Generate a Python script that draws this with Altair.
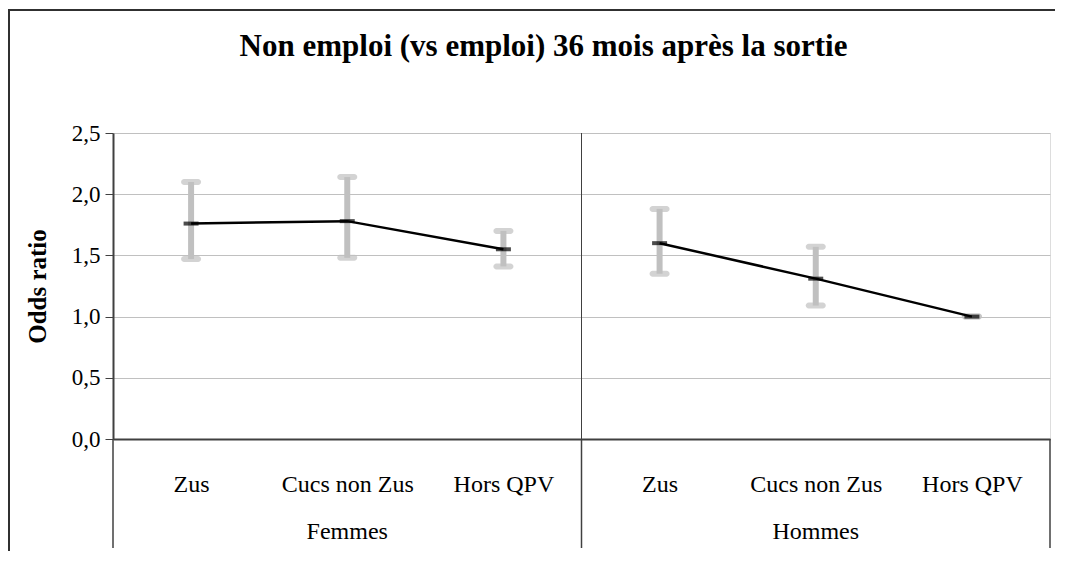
import altair as alt
import pandas as pd

# ---- data ----
groups = ["Femmes", "Femmes", "Femmes", "Hommes", "Hommes", "Hommes"]
categories = ["Zus", "Cucs non Zus", "Hors QPV", "Zus", "Cucs non Zus", "Hors QPV"]
odds = [1.76, 1.78, 1.55, 1.60, 1.31, 1.00]
lower = [1.47, 1.48, 1.41, 1.35, 1.09, 1.00]
upper = [2.10, 2.14, 1.70, 1.88, 1.57, 1.00]
y_ticks = [0.0, 0.5, 1.0, 1.5, 2.0, 2.5]
group_labels = ["Femmes", "Hommes"]
group_centers = [1, 4]
separators = [-0.5, 2.5, 5.5]
middle_divider = [2.5]

FONT = "Liberation Serif"
W, H = 937, 306
GREY_BAR = "#c0c0c0"
DARK = "#404040"

df = pd.DataFrame({
    "pos": list(range(len(categories))),
    "group": groups,
    "cat": categories,
    "odds": odds,
    "lower": lower,
    "upper": upper,
})
grp_df = pd.DataFrame({"pos": group_centers, "label": group_labels})
sep_df = pd.DataFrame({"pos": separators})
mid_df = pd.DataFrame({"pos": middle_divider})

label_array = "[" + ",".join("'" + c + "'" for c in categories) + "]"

x_scale = alt.Scale(domain=[-0.5, 5.5], nice=False, zero=False)
x_axis = alt.Axis(
    values=list(range(len(categories))),
    labelExpr=label_array + "[datum.value]",
    ticks=False, grid=False,
    domainColor=DARK, domainWidth=2,
    labelFont=FONT, labelFontSize=24, labelColor="#000000",
    labelBaseline="middle", labelPadding=45,
    title=None,
)
y_scale = alt.Scale(domain=[0, 2.5], nice=False, zero=True)
y_axis = alt.Axis(
    values=y_ticks,
    labelExpr="replace(format(datum.value, '.1f'), '.', ',')",
    grid=True, gridColor="#c0c0c0", gridWidth=1,
    tickSize=8, tickColor=DARK, tickWidth=1,
    domainColor=DARK, domainWidth=2,
    labelFont=FONT, labelFontSize=23, labelColor="#000000", labelPadding=5,
    title="Odds ratio", titleFont=FONT, titleFontSize=25, titleFontWeight="bold",
    titleColor="#000000", titleX=-76, titleY=H / 2, titleAngle=-90,
    titleAlign="center", titleBaseline="middle",
)


def X(field="pos"):
    return alt.X(field + ":Q", scale=x_scale, axis=x_axis, title=None)


def Y(field):
    return alt.Y(field + ":Q", scale=y_scale, axis=y_axis, title="Odds ratio")


base = alt.Chart(df)

bars = base.mark_rule(color=GREY_BAR, strokeWidth=6).encode(
    x=X(), y=Y("lower"), y2="upper:Q"
)
cap_hi = base.mark_tick(color=GREY_BAR, size=20, thickness=6, cornerRadius=3,
                        orient="horizontal").encode(x=X(), y=Y("upper"))
cap_lo = base.mark_tick(color=GREY_BAR, size=20, thickness=6, cornerRadius=3,
                        orient="horizontal").encode(x=X(), y=Y("lower"))
line = base.mark_line(color="#000000", strokeWidth=2.5).encode(
    x=X(), y=Y("odds"), detail="group:N"
)
means = base.mark_tick(color="#000000", size=15, thickness=4,
                       orient="horizontal").encode(x=X(), y=Y("odds"))

mid_rule = alt.Chart(mid_df).mark_rule(color=DARK, strokeWidth=1).encode(
    x=X(), y=alt.value(0), y2=alt.value(415),
)
sep_rules = alt.Chart(sep_df).mark_rule(color=DARK, strokeWidth=1.5).encode(
    x=X(), y=alt.value(H), y2=alt.value(415),
)
grp_text = alt.Chart(grp_df).mark_text(
    font=FONT, fontSize=24, color="#000000", baseline="middle", align="center"
).encode(
    x=X(), y=alt.value(399), text="label:N",
)

# outer chart frame (top and left edges)
frame_top = alt.Chart(mid_df).mark_rule(color="#303030", strokeWidth=2).encode(
    x=alt.value(-105), x2=alt.value(W + 10), y=alt.value(-123)
)
frame_left = alt.Chart(mid_df).mark_rule(color="#303030", strokeWidth=2).encode(
    x=alt.value(-104), y=alt.value(-124), y2=alt.value(H + 120)
)

chart = alt.layer(
    mid_rule, bars, cap_hi, cap_lo, line, means, sep_rules, grp_text,
    frame_top, frame_left,
).properties(
    width=W, height=H,
    title=alt.TitleParams(
        "Non emploi (vs emploi) 36 mois après la sortie",
        font=FONT, fontSize=31, fontWeight="bold", color="#000000",
        anchor="middle", frame="group", dx=-38, offset=-55,
    ),
    autosize=alt.AutoSizeParams(type="none"),
    padding={"left": 105, "top": 125, "right": 5, "bottom": 112},
).configure_view(
    stroke="#808080", strokeWidth=2
).configure_axis(
    labelFont=FONT, titleFont=FONT
).configure(background="#ffffff")

chart.save("out.html", embed_options={"renderer": "svg", "actions": False})
